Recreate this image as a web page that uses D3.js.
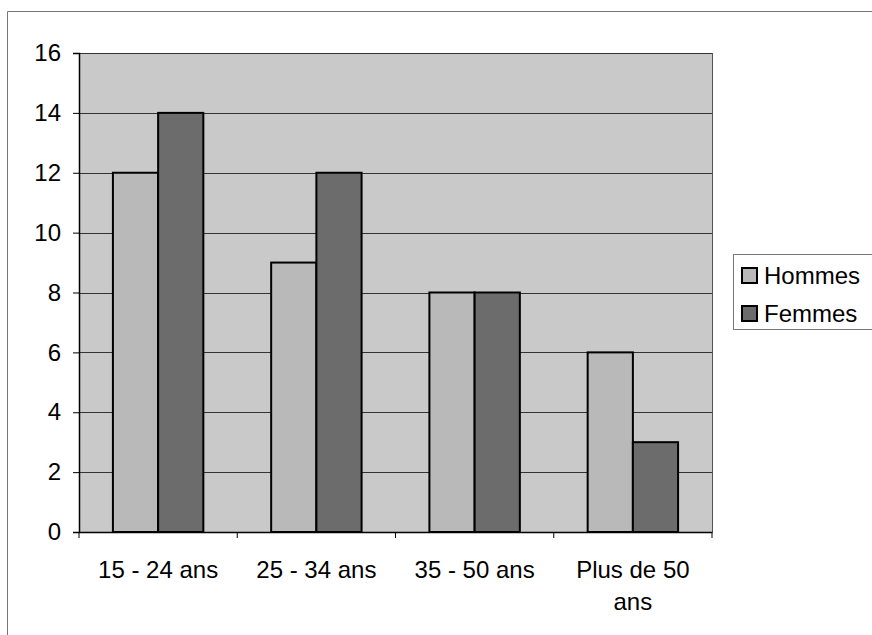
<!DOCTYPE html>
<html><head><meta charset="utf-8">
<script src="https://cdn.jsdelivr.net/npm/d3@7"></script>
<style>body{margin:0;background:#fff}svg{display:block}text{font-family:Arial,"Liberation Sans",sans-serif;fill:#000}</style>
</head><body>
<svg id="c" width="872" height="635"></svg>
<script>
const categories = ["15 - 24 ans", "25 - 34 ans", "35 - 50 ans", "Plus de 50 ans"];
const categoryLines = [["15 - 24 ans"], ["25 - 34 ans"], ["35 - 50 ans"], ["Plus de 50", "ans"]];
const seriesNames = ["Hommes", "Femmes"];
const hommes = [12, 9, 8, 6];
const femmes = [14, 12, 8, 3];
const yTicks = [0, 2, 4, 6, 8, 10, 12, 14, 16];
const colors = ["#b9b9b9", "#6c6c6c"];

const svg = d3.select("#c");
const m = {left: 79, right: 712, top: 53, bottom: 532};
const fs = 24;

// outer chart border
svg.append("path").attr("d", "M7.5,635 L7.5,11.5 L872,11.5").attr("fill","none").attr("stroke","#777").attr("stroke-width",1);

const x = d3.scaleBand().domain(categories).range([m.left, m.right]).paddingInner(0).paddingOuter(0);
const y = d3.scaleLinear().domain([0, 16]).range([m.bottom, m.top]);
const inner = x.bandwidth() / 3.5;
const xs = d3.scaleBand().domain(seriesNames).range([0, inner*2]);

svg.append("rect").attr("x", m.left).attr("y", m.top).attr("width", m.right-m.left).attr("height", m.bottom-m.top).attr("fill", "#c9c9c9");

// gridlines
svg.append("g").selectAll("line").data(yTicks.filter(d=>d>0)).join("line")
  .attr("x1", m.left).attr("x2", m.right).attr("y1", d=>Math.round(y(d))+0.5).attr("y2", d=>Math.round(y(d))+0.5)
  .attr("stroke", "#333").attr("stroke-width", 1);

// right border of plot
svg.append("line").attr("x1", m.right+0.5).attr("x2", m.right+0.5).attr("y1", m.top).attr("y2", m.bottom).attr("stroke","#555");

const data = categories.map((c,i)=>({c, vals:[hommes[i], femmes[i]]}));
const g = svg.append("g");
data.forEach(d=>{
  d.vals.forEach((v,j)=>{
    const x0 = x(d.c) + inner*0.75 + xs(seriesNames[j]);
    g.append("rect").attr("x", x0).attr("y", y(v)).attr("width", xs.bandwidth()).attr("height", y(0)-y(v))
      .attr("fill", colors[j]).attr("stroke", "#000").attr("stroke-width", 2);
  });
});

// axes
const yAxis = d3.axisLeft(y).tickValues(yTicks).tickSize(6).tickPadding(8).tickFormat(d3.format("d"));
const ya = svg.append("g").attr("transform", `translate(${m.left},0)`).call(yAxis);
ya.select(".domain").attr("stroke","#000").attr("stroke-width",1.5);
ya.selectAll(".tick line").attr("stroke","#000");
ya.selectAll("text").attr("font-size", fs).attr("font-family","Arial, 'Liberation Sans', sans-serif").attr("fill","#000").attr("x",-18);

const xAxis = d3.axisBottom(x).tickSizeOuter(0).tickSize(0).tickFormat("");
const xa = svg.append("g").attr("transform", `translate(0,${m.bottom})`).call(xAxis);
xa.select(".domain").attr("stroke","#000").attr("stroke-width",1.5);
// category boundary ticks
const bounds = categories.map(c=>x(c)).concat([m.right]);
svg.append("g").selectAll("line").data(bounds).join("line")
  .attr("x1", d=>d).attr("x2", d=>d).attr("y1", m.bottom).attr("y2", m.bottom+6).attr("stroke","#000");

// x labels
categories.forEach((c,i)=>{
  const t = svg.append("text").attr("text-anchor","middle").attr("font-size",fs)
    .attr("x", x(c)+x.bandwidth()/2).attr("y", 578);
  categoryLines[i].forEach((ln,k)=>{
    t.append("tspan").attr("x", x(c)+x.bandwidth()/2).attr("dy", k===0?0:32).text(ln);
  });
});

// legend
const lg = svg.append("g");
lg.append("rect").attr("x", 733.5).attr("y", 254.5).attr("width", 145).attr("height", 75).attr("fill","#fff").attr("stroke","#777");
seriesNames.forEach((s,i)=>{
  const yy = 268 + i*38;
  lg.append("rect").attr("x", 742).attr("y", yy).attr("width", 15).attr("height", 15).attr("fill", colors[i]).attr("stroke","#000").attr("stroke-width",2);
  lg.append("text").attr("x", 764).attr("y", yy+16).attr("font-size", fs).text(s);
});
</script>
</body></html>
